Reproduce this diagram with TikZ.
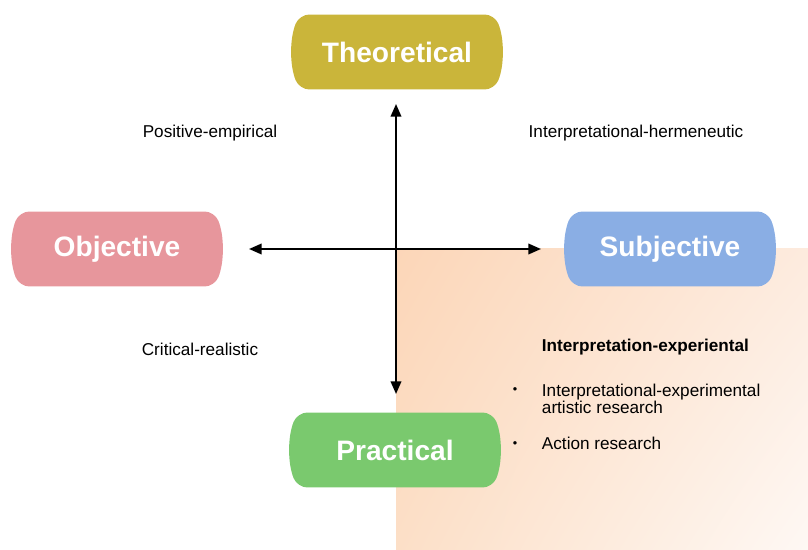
\documentclass[tikz,border=0pt]{standalone}
\usepackage{fontspec}
\setmainfont{Liberation Sans}
\usepackage{xcolor}
\usetikzlibrary{shapes.misc,arrows.meta,shadings}
\definecolor{theogold}{RGB}{202,181,58}
\definecolor{objpink}{RGB}{231,150,156}
\definecolor{subjblue}{RGB}{138,174,228}
\definecolor{pracgreen}{RGB}{122,201,110}
\definecolor{peachA}{RGB}{252,214,184}
\definecolor{peachB}{RGB}{253,235,222}
\definecolor{peachC}{RGB}{252,223,199}
\definecolor{peachD}{RGB}{254,248,244}

\tikzset{
  pole/.style={shape=rounded rectangle, rounded rectangle arc length=45,
    rounded corners=7pt, minimum width=210*0.711pt, minimum height=75*0.711pt,
    inner sep=0pt, text=white, font=\fontsize{20}{24}\selectfont\bfseries},
  axis/.style={{Triangle[length=9pt,width=7.5pt]}-{Triangle[length=9pt,width=7.5pt]}, line width=1.4pt},
  label/.style={font=\fontsize{12.2}{14}\selectfont}
}

\begin{document}
\begin{tikzpicture}[x=0.025cm, y=-0.025cm]
    \useasboundingbox (0,0) rectangle (808,550);
    % shaded quadrant
    \shade[upper left=peachA, upper right=peachB, lower left=peachC, lower right=peachD]
      (396,249) rectangle (808,550);

    \node[pole, fill=theogold]  (theo) at (397,52)  {Theoretical};
    \node[pole, fill=objpink]   (obj)  at (117,249) {Objective};
    \node[pole, fill=subjblue]  (subj) at (670,249) {Subjective};
    \node[pole, fill=pracgreen] (prac) at (395,450) {Practical};

    \coordinate (top) at (396,104);
    \coordinate (bot) at (396,394);
    \coordinate (lft) at (249,249);
    \coordinate (rgt) at (541,249);
    \draw[axis] (top) -- (bot);
    \draw[axis] (lft) -- (rgt);

    \node[label] (posemp) at (210,133) {Positive-empirical};
    \node[label] (inthrm) at (636,133) {Interpretational-hermeneutic};
    \node[label] (critre) at (200,349) {Critical-realistic};
    \node[label, anchor=west, font=\fontsize{12.2}{14}\selectfont\bfseries] (intexp) at (537,347) {Interpretation-experiental};
    \node[label, anchor=north west, align=left] (itemA) at (537,379) {Interpretational-experimental\\[-2pt]artistic research};
    \node[label, anchor=west] (itemB) at (537,443) {Action research};
    \node[label, font=\fontsize{9}{10}\selectfont] (dotA) at (515,391) {\textbullet};
    \node[label, font=\fontsize{9}{10}\selectfont] (dotB) at (515,445) {\textbullet};
  \end{tikzpicture}
\end{document}
